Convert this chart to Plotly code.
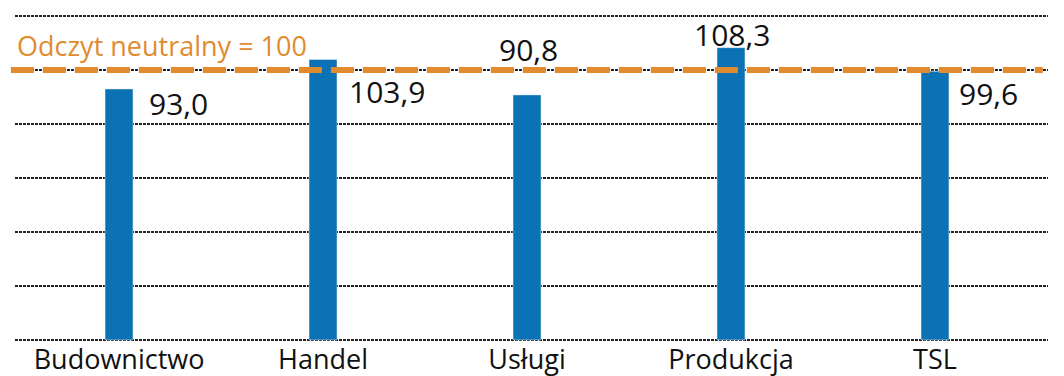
import plotly.graph_objects as go

categories = ["Budownictwo", "Handel", "Usługi", "Produkcja", "TSL"]
values = [93.0, 103.9, 90.8, 108.3, 99.6]
value_labels = ["93,0", "103,9", "90,8", "108,3", "99,6"]
neutral_value = 100
neutral_label = "Odczyt neutralny = 100"

# label placement (xshift px, yshift px, xanchor)
label_place = [
    (28, -15, "left"),
    (24, -32, "left"),
    (1, 45, "center"),
    (1, 13, "center"),
    (22, -22, "left"),
]

FONT = "Open Sans"
BLUE = "#0A72B5"
ORANGE = "#E08B2F"

fig = go.Figure()
fig.add_trace(go.Bar(
    x=categories, y=values, marker_color=BLUE, width=0.137,
    hoverinfo="skip",
))

fig.add_shape(type="line", xref="paper", yref="y", x0=-0.004, x1=0.995, y0=neutral_value, y1=neutral_value,
              line=dict(color=ORANGE, width=6, dash="23px,9px"), layer="above")

fig.add_annotation(xref="paper", yref="y", x=0.0, y=neutral_value, text=neutral_label,
                   showarrow=False, xanchor="left", yanchor="middle", yshift=25,
                   font=dict(family=FONT, size=27, color=ORANGE))

for cat, v, lab, (xs, ys, xa) in zip(categories, values, value_labels, label_place):
    fig.add_annotation(x=cat, y=v, text=lab, showarrow=False, xanchor=xa, yanchor="middle",
                       xshift=xs, yshift=ys,
                       font=dict(family=FONT, size=30, color="#111"))

fig.update_layout(
    width=1064, height=376,
    margin=dict(l=15, r=16, t=15, b=35),
    plot_bgcolor="white", paper_bgcolor="white",
    showlegend=False,
    xaxis=dict(range=[-0.51, 4.554], showgrid=False, showline=False, ticks="", automargin=False,
               tickfont=dict(family=FONT, size=27, color="#111")),
    yaxis=dict(range=[-0.4, 120.4], dtick=20, tick0=0, showgrid=True, gridcolor="#222", automargin=False,
               gridwidth=2, griddash="3px,1px", zeroline=False, showticklabels=False, ticks=""),
)

fig.write_html("out.html")
